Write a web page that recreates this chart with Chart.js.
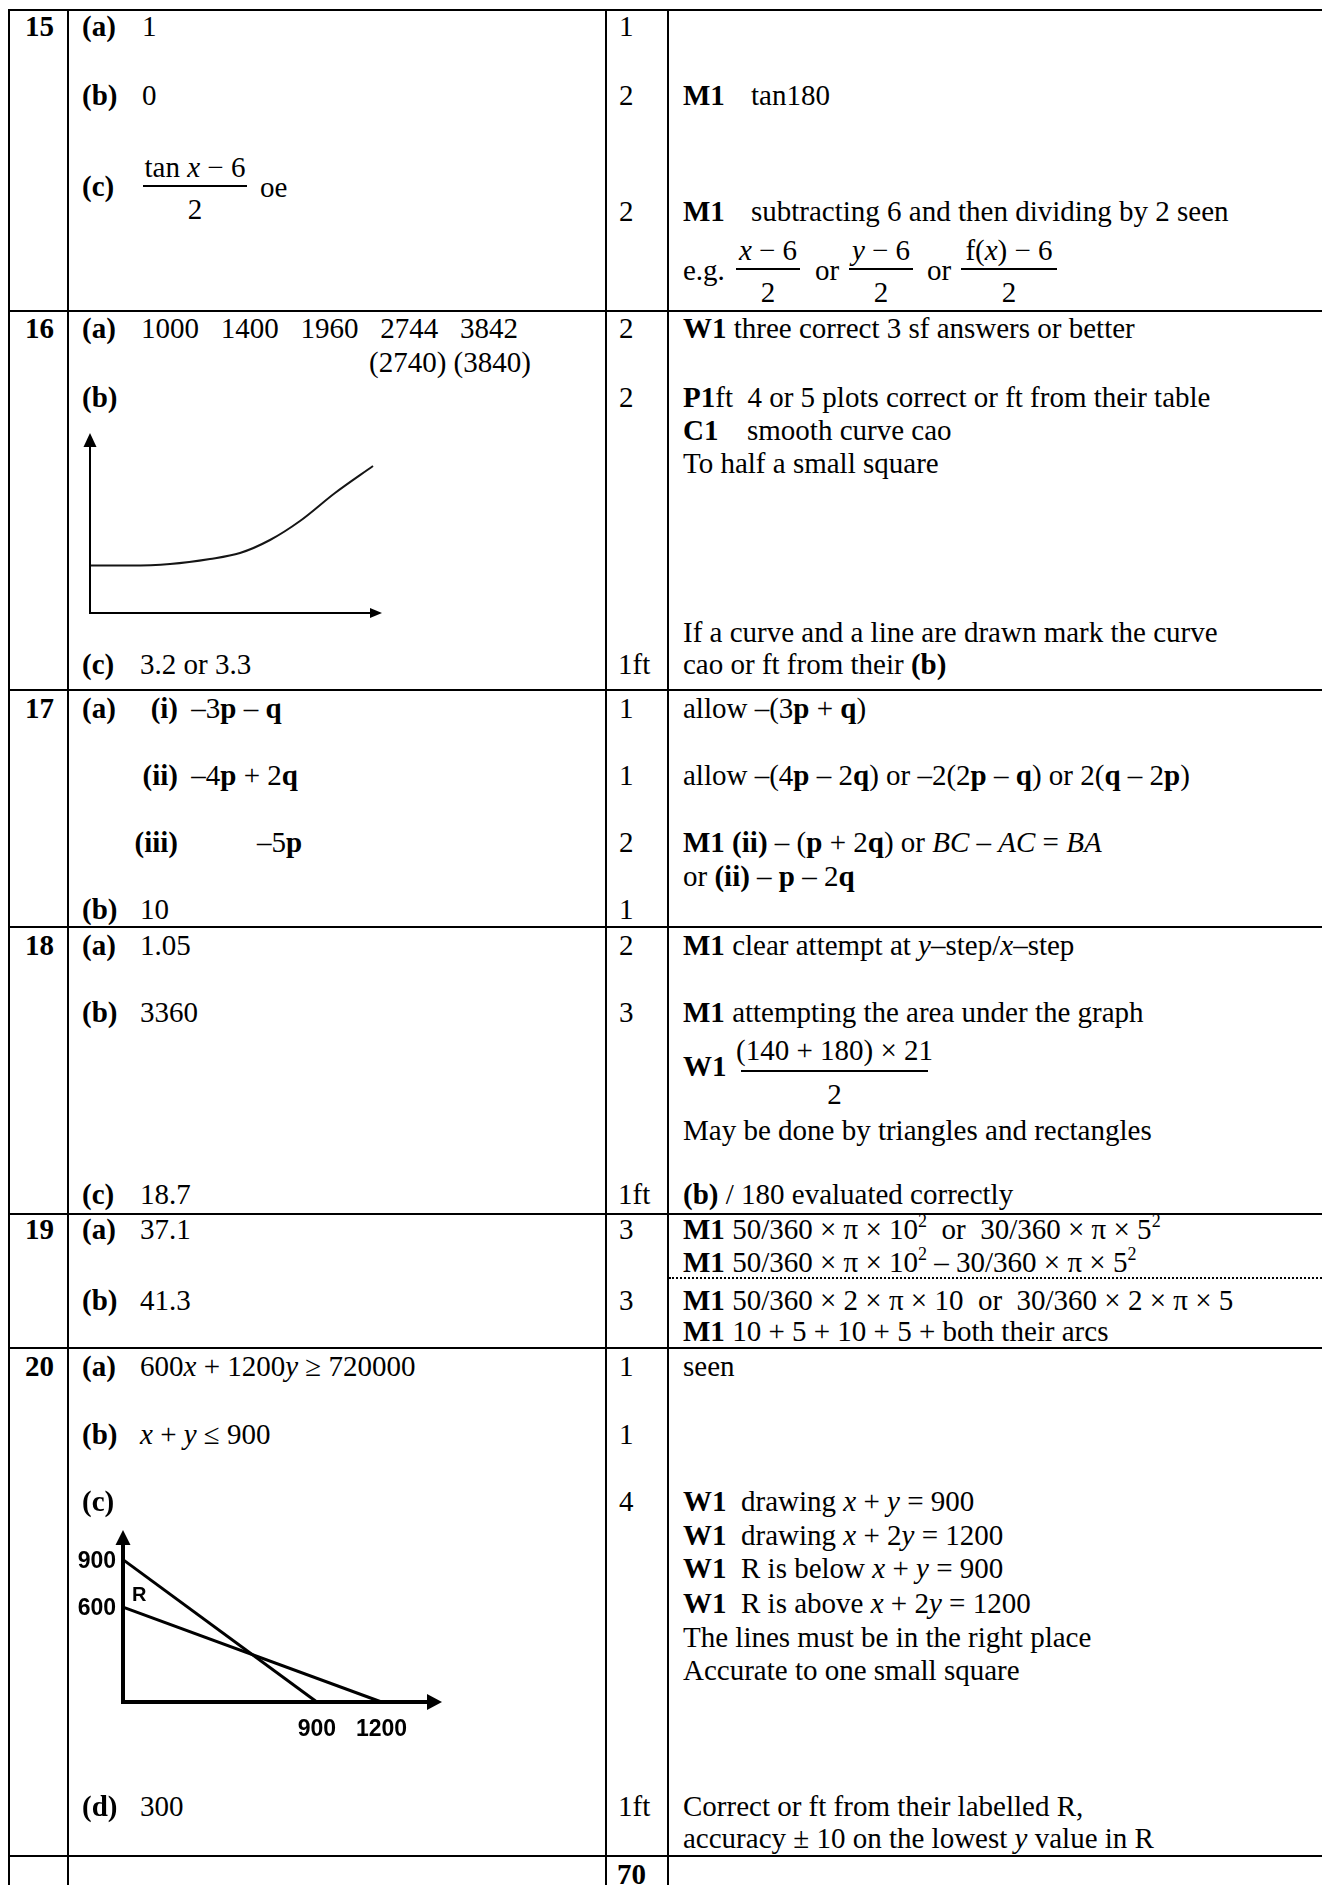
<!DOCTYPE html>
<html><head><meta charset="utf-8">
<script src="https://cdn.jsdelivr.net/npm/chart.js@4.4.1/dist/chart.umd.min.js"></script>
<style>
html,body{margin:0;padding:0;background:#fff;}
body{width:1322px;height:1885px;position:relative;overflow:hidden;font-family:"Liberation Serif","Times New Roman",serif;font-size:29px;color:#000;}
.t{position:absolute;white-space:pre;line-height:34px;}
.b{font-weight:bold;}
.r{transform:translateX(-100%);}
.c{text-align:center;}
.hl{position:absolute;background:#000;height:2px;left:8px;right:0;}
.vl{position:absolute;background:#000;width:2px;top:9px;bottom:0;}
.fl{position:absolute;background:#000;height:1.5px;}
.dot{position:absolute;left:669px;right:0;height:0;border-top:2px dotted #000;}
sup{font-size:18px;line-height:0;vertical-align:12px;}
canvas{position:absolute;}
</style></head><body>
<canvas id="curve16" width="320" height="203" style="left:76px;top:425px;"></canvas>
<canvas id="lp20" width="390" height="240" style="left:60px;top:1515px;"></canvas>
<script>
// ---- Q16(b) sketch: smooth growth curve (sketch units, no tick labels) ----
const curveX = [0, 4, 8, 12, 15, 18, 21, 24.5, 28.3];
const curveY = [4.75, 4.75, 4.9, 5.4, 6.0, 7.3, 9.2, 12.0, 14.7];
const curveAxisMaxX = 29.2;
const curveAxisMaxY = 18;

// ---- Q20(c) sketch: x + y = 900 and x + 2y = 1200 ----
const lineAX = [0, 900];
const lineAY = [900, 0];
const lineBX = [0, 1200];
const lineBY = [600, 0];
const lpTicksX = [900, 1200];
const lpTicksY = [600, 900];
const lpAxisMaxX = 1481;
const lpAxisMaxY = 1087;
const regionLabel = 'R';
const regionAt = [75, 675];

// ---- table layout ----
const hLines = [9, 310, 689, 926, 1213, 1347, 1855];
const vLines = [8, 67, 605, 667];
for (const y of hLines) { const d = document.createElement('div'); d.className = 'hl'; d.style.top = y + 'px'; document.body.appendChild(d); }
for (const x of vLines) { const d = document.createElement('div'); d.className = 'vl'; d.style.left = x + 'px'; document.body.appendChild(d); }
const dl = document.createElement('div'); dl.className = 'dot'; dl.style.top = '1277px'; document.body.appendChild(dl);

function T(x, yc, html, cls) {
  const d = document.createElement('div');
  d.className = 't' + (cls ? ' ' + cls : '');
  d.style.left = x + 'px'; d.style.top = (yc - 17) + 'px';
  d.innerHTML = html; document.body.appendChild(d);
}
function F(xl, xr, yl, num, den, nOff, dOff) {
  const l = document.createElement('div'); l.className = 'fl';
  l.style.left = xl + 'px'; l.style.width = (xr - xl) + 'px'; l.style.top = (yl - 1) + 'px';
  document.body.appendChild(l);
  for (const [txt, yc] of [[num, yl - (nOff || 19)], [den, yl + (dOff || 23)]]) {
    const d = document.createElement('div'); d.className = 't c';
    d.style.left = (xl - 20) + 'px'; d.style.width = (xr - xl + 40) + 'px'; d.style.top = (yc - 17) + 'px';
    d.innerHTML = txt; document.body.appendChild(d);
  }
}
const MX = 619, CX = 683, VX = 141, FT = 618;
// column 1
[[26,'15'],[328,'16'],[708,'17'],[945,'18'],[1229,'19'],[1366,'20']].forEach(([y,s]) => T(25, y, s, 'b'));

// Q15
T(82, 26, '(a)', 'b'); T(142, 26, '1'); T(MX, 26, '1');
T(82, 95, '(b)', 'b'); T(142, 95, '0'); T(MX, 95, '2'); T(CX, 95, 'M1', 'b'); T(751, 95, 'tan180');
T(82, 186, '(c)', 'b'); F(143, 247, 186, 'tan <i>x</i> − 6', '2'); T(260, 187, 'oe');
T(MX, 211, '2'); T(CX, 211, 'M1', 'b'); T(751, 211, 'subtracting 6 and then dividing by 2 seen');
T(CX, 270, 'e.g.'); F(736, 800, 269, '<i>x</i> − 6', '2'); T(815, 270, 'or');
F(849, 913, 269, '<i>y</i> − 6', '2'); T(927, 270, 'or'); F(961, 1057, 269, 'f(<i>x</i>) − 6', '2');

// Q16
T(82, 328, '(a)', 'b'); T(VX, 328, '1000   1400   1960   2744   3842'); T(369, 362, '(2740) (3840)');
T(MX, 328, '2'); T(CX, 328, '<b>W1</b> three correct 3 sf answers or better');
T(82, 397, '(b)', 'b'); T(MX, 397, '2'); T(CX, 397, '<b>P1</b>ft  4 or 5 plots correct or ft from their table');
T(CX, 430, 'C1', 'b'); T(747, 430, 'smooth curve cao');
T(CX, 463, 'To half a small square');
T(CX, 632, 'If a curve and a line are drawn mark the curve');
T(82, 664, '(c)', 'b'); T(140, 664, '3.2 or 3.3'); T(FT, 664, '1ft'); T(CX, 664, 'cao or ft from their <b>(b)</b>');

// Q17
T(82, 708, '(a)', 'b'); T(178, 708, '(i)', 'b r'); T(184, 708, ' –3<b>p</b> – <b>q</b>');
T(MX, 708, '1'); T(CX, 708, 'allow –(3<b>p</b> + <b>q</b>)');
T(178, 775, '(ii)', 'b r'); T(184, 775, ' –4<b>p</b> + 2<b>q</b>');
T(MX, 775, '1'); T(CX, 775, 'allow –(4<b>p</b> – 2<b>q</b>) or –2(2<b>p</b> – <b>q</b>) or 2(<b>q</b> – 2<b>p</b>)');
T(178, 842, '(iii)', 'b r'); T(257, 842, '–5<b>p</b>');
T(MX, 842, '2'); T(CX, 842, '<b>M1 (ii)</b> – (<b>p</b> + 2<b>q</b>) or <i>BC</i> – <i>AC</i> = <i>BA</i>');
T(CX, 876, 'or <b>(ii)</b> – <b>p</b> – 2<b>q</b>');
T(82, 909, '(b)', 'b'); T(140, 909, '10'); T(MX, 909, '1');

// Q18
T(82, 945, '(a)', 'b'); T(140, 945, '1.05'); T(MX, 945, '2'); T(CX, 945, '<b>M1</b> clear attempt at <i>y</i>–step/<i>x</i>–step');
T(82, 1012, '(b)', 'b'); T(140, 1012, '3360'); T(MX, 1012, '3'); T(CX, 1012, '<b>M1</b> attempting the area under the graph');
T(CX, 1066, 'W1', 'b'); F(741, 928, 1071, '(140 + 180) × 21', '2', 21, 23);
T(CX, 1130, 'May be done by triangles and rectangles');
T(82, 1194, '(c)', 'b'); T(140, 1194, '18.7'); T(FT, 1194, '1ft'); T(CX, 1194, '<b>(b)</b> / 180 evaluated correctly');

// Q19
T(82, 1229, '(a)', 'b'); T(140, 1229, '37.1'); T(MX, 1229, '3');
T(CX, 1229, '<b>M1</b> 50/360 × π × 10<sup>2</sup>  or  30/360 × π × 5<sup>2</sup>');
T(CX, 1262, '<b>M1</b> 50/360 × π × 10<sup>2</sup> – 30/360 × π × 5<sup>2</sup>');
T(82, 1300, '(b)', 'b'); T(140, 1300, '41.3'); T(MX, 1300, '3');
T(CX, 1300, '<b>M1</b> 50/360 × 2 × π × 10  or  30/360 × 2 × π × 5');
T(CX, 1331, '<b>M1</b> 10 + 5 + 10 + 5 + both their arcs');

// Q20
T(82, 1366, '(a)', 'b'); T(140, 1366, '600<i>x</i> + 1200<i>y</i> ≥ 720000'); T(MX, 1366, '1'); T(CX, 1366, 'seen');
T(82, 1434, '(b)', 'b'); T(140, 1434, '<i>x</i> + <i>y</i> ≤ 900'); T(MX, 1434, '1');
T(82, 1501, '(c)', 'b'); T(MX, 1501, '4');
T(CX, 1501, '<b>W1</b>  drawing <i>x</i> + <i>y</i> = 900');
T(CX, 1535, '<b>W1</b>  drawing <i>x</i> + 2<i>y</i> = 1200');
T(CX, 1568, '<b>W1</b>  R is below <i>x</i> + <i>y</i> = 900');
T(CX, 1603, '<b>W1</b>  R is above <i>x</i> + 2<i>y</i> = 1200');
T(CX, 1637, 'The lines must be in the right place');
T(CX, 1670, 'Accurate to one small square');
T(82, 1806, '(d)', 'b'); T(140, 1806, '300'); T(FT, 1806, '1ft'); T(CX, 1806, 'Correct or ft from their labelled R,');
T(CX, 1838, 'accuracy ± 10 on the lowest <i>y</i> value in R');
T(617, 1874, '70', 'b');

// ---- sketch axes plugin (axes with arrowheads, tick labels from scales) ----
const sketchAxes = {
  id: 'sketchAxes',
  afterDraw(chart, args, o) {
    const { ctx, scales: { x, y } } = chart;
    const x0 = x.getPixelForValue(x.min), y0 = y.getPixelForValue(y.min);
    const xEnd = x.getPixelForValue(x.max), yEnd = y.getPixelForValue(y.max);
    ctx.save();
    ctx.strokeStyle = '#000'; ctx.fillStyle = '#000'; ctx.lineWidth = o.width; ctx.lineCap = 'butt';
    ctx.beginPath(); ctx.moveTo(x0, y0 + o.width / 2); ctx.lineTo(x0, yEnd + o.head * 0.7); ctx.stroke();
    ctx.beginPath(); ctx.moveTo(x0 - o.width / 2, y0); ctx.lineTo(xEnd - o.head * 0.7, y0); ctx.stroke();
    ctx.beginPath(); ctx.moveTo(x0, yEnd); ctx.lineTo(x0 - o.halfY, yEnd + o.head); ctx.lineTo(x0 + o.halfY, yEnd + o.head); ctx.closePath(); ctx.fill();
    ctx.beginPath(); ctx.moveTo(xEnd, y0); ctx.lineTo(xEnd - o.headX, y0 - o.halfX); ctx.lineTo(xEnd - o.headX, y0 + o.halfX); ctx.closePath(); ctx.fill();
    if (o.xTicks) {
      ctx.font = 'bold 23px "Liberation Sans", Arial, sans-serif';
      ctx.textAlign = 'center'; ctx.textBaseline = 'middle';
      o.xTicks.forEach(v => ctx.fillText(String(v), x.getPixelForValue(v), y0 + 28));
      ctx.textAlign = 'right';
      o.yTicks.forEach(v => ctx.fillText(String(v), x0 - 7, y.getPixelForValue(v) + 2));
    }
    if (o.label) {
      ctx.font = 'bold 20px "Liberation Sans", Arial, sans-serif';
      ctx.textAlign = 'center'; ctx.textBaseline = 'middle';
      ctx.fillText(o.label.text, x.getPixelForValue(o.label.at[0]), y.getPixelForValue(o.label.at[1]));
    }
    ctx.restore();
  }
};

const pts = (xs, ys) => xs.map((v, i) => ({ x: v, y: ys[i] }));
const baseOpts = (pad, maxX, maxY, axesOpt) => ({
  responsive: false, animation: false, events: [], devicePixelRatio: 1,
  layout: { padding: pad },
  plugins: { legend: { display: false }, tooltip: { enabled: false }, sketchAxes: axesOpt },
  scales: {
    x: { type: 'linear', min: 0, max: maxX, display: false },
    y: { type: 'linear', min: 0, max: maxY, display: false }
  }
});

new Chart(document.getElementById('curve16'), {
  type: 'line',
  data: { datasets: [{ data: pts(curveX, curveY), borderColor: '#151515', borderWidth: 2, pointRadius: 0, cubicInterpolationMode: 'monotone', fill: false, clip: false }] },
  options: baseOpts({ left: 14, right: 14, top: 8, bottom: 15 }, curveAxisMaxX, curveAxisMaxY,
    { width: 2, head: 14, halfY: 6.5, headX: 12, halfX: 5 }),
  plugins: [sketchAxes]
});

new Chart(document.getElementById('lp20'), {
  type: 'line',
  data: { datasets: [
    { data: pts(lineAX, lineAY), borderColor: '#000', borderWidth: 3, pointRadius: 0, tension: 0, fill: false, clip: false },
    { data: pts(lineBX, lineBY), borderColor: '#000', borderWidth: 3, pointRadius: 0, tension: 0, fill: false, clip: false }
  ] },
  options: baseOpts({ left: 63, right: 8, top: 15, bottom: 53 }, lpAxisMaxX, lpAxisMaxY,
    { width: 4, head: 15, halfY: 7.5, headX: 15, halfX: 8, xTicks: lpTicksX, yTicks: lpTicksY, label: { text: regionLabel, at: regionAt } }),
  plugins: [sketchAxes]
});
</script>
</body></html>
